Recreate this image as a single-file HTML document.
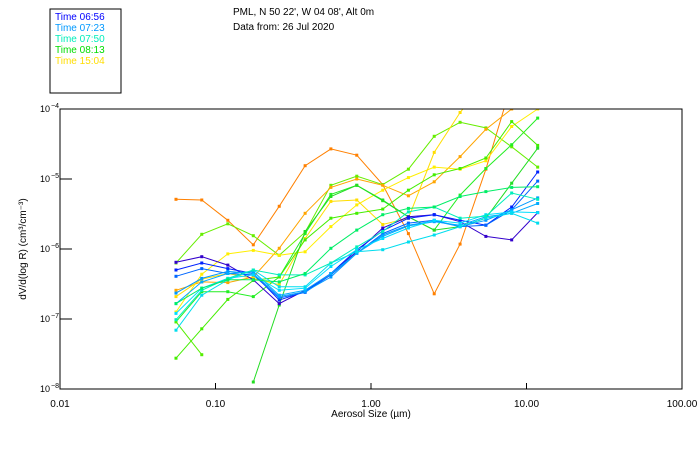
<!DOCTYPE html>
<html><head><meta charset="utf-8"><style>
body{margin:0;background:#fff;width:700px;height:450px;overflow:hidden}
svg{display:block;font-family:"Liberation Sans",sans-serif}
</style></head><body>
<svg id="chart" width="700" height="450">
<rect x="50" y="9" width="71" height="84" fill="#fff" stroke="#000"/>
<g font-size="10">
<text x="55" y="20" fill="#0000ff">Time 06:56</text>
<text x="55" y="31" fill="#0099ff">Time 07:23</text>
<text x="55" y="42" fill="#00eebb">Time 07:50</text>
<text x="55" y="53" fill="#00dd00">Time 08:13</text>
<text x="55" y="64" fill="#ffdd00">Time 15:04</text>
</g>
<text x="233" y="15" font-size="10">PML, N 50 22', W 04 08', Alt 0m</text>
<text x="233" y="30" font-size="10">Data from: 26 Jul 2020</text>
<defs><clipPath id="pc"><rect x="60" y="109" width="622" height="280"/></clipPath></defs>
<g id="series" clip-path="url(#pc)"></g>
<g id="axes"></g>
<text x="371" y="417" font-size="10" text-anchor="middle">Aerosol Size (µm)</text>
<text transform="translate(26,249) rotate(-90)" font-size="10" text-anchor="middle">dV/d(log R) (cm³/cm⁻³)</text>
</svg>
<script>
const sizes=[0.0557,0.0816,0.120,0.175,0.257,0.377,0.552,0.81,1.19,1.74,2.55,3.74,5.48,8.03,11.8];
const xTickValues=[0.01,0.1,1,10,100];
const xTickLabels=["0.01","0.10","1.00","10.00","100.00"];
const yTickExps=[-4,-5,-6,-7,-8];
const colors=["#ff8000","#66ee00","#ffa500","#ffee00","#ffdd00","#22ee22","#44ee00","#22dd22","#55ee00","#3300cc","#0022ff","#0066ff","#0099ff","#00aaff","#00ddff","#00ddee","#00eebb","#00ee66"];
// log10 of dV/dlogR
const s0=[-5.29,-5.30,-5.59,-5.94,-5.39,-4.81,-4.57,-4.66,-5.08,-5.78,-6.64,-5.93,-4.86,-3.63,-2.92];
const s1=[-6.20,-5.79,-5.64,-5.81,-6.09,-5.76,-5.09,-4.96,-5.08,-4.86,-4.39,-4.19,-4.27,-4.54,-4.83];
const s2=[-6.59,-6.47,-6.48,-6.40,-5.99,-5.49,-5.12,-5.00,-5.09,-5.24,-5.04,-4.68,-4.29,-4.00,-3.59];
const s3=[-6.90,-6.36,-6.07,-6.02,-6.09,-6.04,-5.68,-5.37,-5.16,-4.98,-4.83,-4.86,-4.74,-4.25,-4.00];
const s4=[-6.68,-6.43,-6.35,-6.42,-6.51,-5.85,-5.32,-5.30,-5.65,-5.56,-4.62,-4.05,-3.59,-3.16,-2.68];
const s5=[-7.04,-6.61,-6.61,-6.68,-6.40,-5.78,-5.22,-5.09,-5.31,-5.54,-5.73,-5.23,-4.85,-4.51,-4.13];
const s6=[-7.56,-7.14,-6.72,-6.45,-6.40,-5.87,-5.56,-5.49,-5.43,-5.16,-4.94,-4.85,-4.70,-4.18,-4.52];
const s7=[null,null,null,-7.90,-6.80,-5.75,-5.25,-5.09,-5.30,-5.54,-5.73,-5.68,-5.56,-5.06,-4.56];
const s8=[-7.04,-7.51,null,null,null,null,null,null,null,null,null,null,null,null,null];
const s9=[-6.19,-6.11,-6.23,-6.44,-6.78,-6.59,-6.35,-6.04,-5.70,-5.54,-5.51,-5.61,-5.82,-5.87,-5.48];
const s10=[-6.30,-6.20,-6.28,-6.35,-6.73,-6.61,-6.35,-6.01,-5.74,-5.56,-5.51,-5.59,-5.66,-5.40,-4.90];
const s11=[-6.39,-6.28,-6.35,-6.37,-6.70,-6.62,-6.37,-6.06,-5.78,-5.63,-5.59,-5.68,-5.66,-5.44,-5.03];
const s12=[-6.63,-6.42,-6.32,-6.35,-6.68,-6.61,-6.40,-6.06,-5.80,-5.66,-5.60,-5.68,-5.59,-5.44,-5.27];
const s13=[-6.78,-6.47,-6.35,-6.32,-6.66,-6.59,-6.35,-6.06,-5.82,-5.67,-5.61,-5.66,-5.54,-5.49,-5.35];
const s14=[-6.92,-6.56,-6.42,-6.37,-6.59,-6.56,-6.25,-6.01,-5.85,-5.70,-5.59,-5.63,-5.51,-5.47,-5.48];
const s15=[-7.16,-6.66,-6.44,-6.30,-6.54,-6.54,-6.20,-6.04,-6.01,-5.90,-5.80,-5.68,-5.56,-5.49,-5.63];
const s16=[-7.01,-6.59,-6.42,-6.30,-6.37,-6.37,-6.20,-5.97,-5.75,-5.47,-5.40,-5.56,-5.53,-5.20,-5.29];
const s17=[-6.78,-6.56,-6.44,-6.44,-6.47,-6.35,-5.99,-5.73,-5.51,-5.42,-5.40,-5.25,-5.18,-5.12,-5.11];
const allSeries=[s0,s1,s2,s3,s4,s5,s6,s7,s8,s9,s10,s11,s12,s13,s14,s15,s16,s17];

const NS="http://www.w3.org/2000/svg";
const L=60,R=682,T=109,B=389;
function xs(v){return L+(Math.log10(v)+2)/4*(R-L);}
function ys(e){return T+(-4-e)/4*(B-T);}
function mk(tag,attrs,parent){const el=document.createElementNS(NS,tag);for(const k in attrs)el.setAttribute(k,attrs[k]);parent.appendChild(el);return el;}

const sg=document.getElementById('series');
allSeries.forEach((s,i)=>{
  const g=mk('g',{},sg);
  
  
  let d='';let pen=false;
  s.forEach((v,j)=>{if(v===null){pen=false;return;}d+=(pen?'L':'M')+xs(sizes[j]).toFixed(1)+' '+ys(v).toFixed(1);pen=true;});
  const p=mk('path',{d:d,fill:'none',stroke:colors[i],'stroke-width':1},g);
  
  
  s.forEach((v,j)=>{if(v===null)return;
    const r=mk('rect',{x:xs(sizes[j])-1.5,y:ys(v)-1.5,width:3,height:3,fill:colors[i]},g);
    
    
  });
});

const ax=document.getElementById('axes');
const frame=mk('rect',{x:L,y:T,width:R-L,height:B-T,fill:'none',stroke:'#000','stroke-width':1},ax);


xTickValues.forEach((v,i)=>{
  const x=xs(v);
  const t=mk('line',{x1:x,x2:x,y1:B,y2:B-6,stroke:'#000'},ax);
  
  
  const lb=mk('text',{x:x,y:407,'font-size':10,'text-anchor':'middle'},ax);
  lb.textContent=xTickLabels[i];
  
  
});
yTickExps.forEach(e=>{
  const y=ys(e);
  const t=mk('line',{x1:L,x2:L+12,y1:y,y2:y,stroke:'#000'},ax);
  
  
  const lb=mk('text',{x:50,y:y+3,'font-size':9,'text-anchor':'end'},ax);
  lb.textContent='10';
  
  
  const sp=mk('text',{x:51,y:y-1,'font-size':7},ax);
  sp.textContent=String(e).replace('-','−');
  
  
});
</script>
</body></html>
